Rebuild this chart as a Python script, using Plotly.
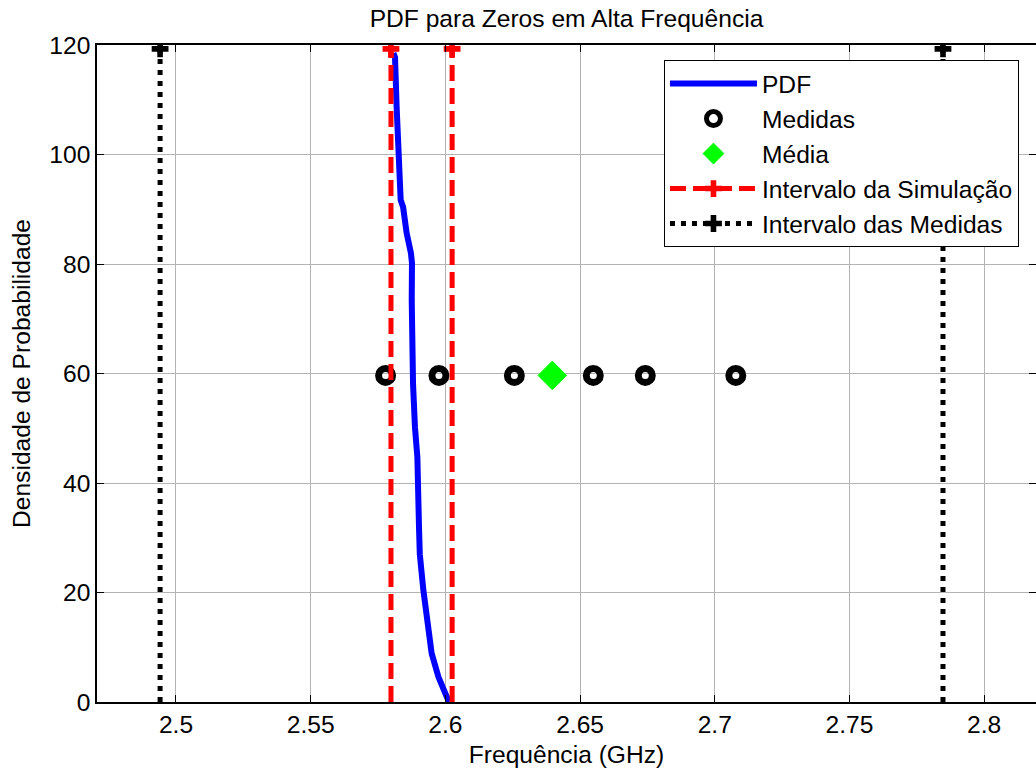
import plotly.graph_objects as go

# ---------------- data ----------------
pdf_freq = [2.5807, 2.5813, 2.5819, 2.5825, 2.5834, 2.5843, 2.5856, 2.5872, 2.5876,
            2.5875, 2.5877, 2.5880, 2.5887, 2.5896, 2.5902, 2.5905, 2.5918, 2.5931,
            2.5949, 2.5974, 2.5992, 2.6007, 2.6013]
pdf_dens = [118.5, 117.8, 108.7, 100.3, 91.7, 90.4, 85.7, 82.0, 80.2,
            73.4, 61.2, 58.0, 50.2, 44.7, 32.0, 27.0, 20.5, 15.0,
            8.9, 4.6, 2.2, 0.4, 0.0]

medidas_freq = [2.5778, 2.5976, 2.6256, 2.6549, 2.6742, 2.7078]
medidas_level = 59.65
media_freq = 2.6397

sim_interval = [2.5798, 2.6025]
meas_interval = [2.4941, 2.7847]
interval_bottom = 0.0
interval_top = 119.3

x_ticks = [2.5, 2.55, 2.6, 2.65, 2.7, 2.75, 2.8]
x_tick_labels = ["2.5", "2.55", "2.6", "2.65", "2.7", "2.75", "2.8"]
y_ticks = [0, 20, 40, 60, 80, 100, 120]
x_range = [2.47068, 2.81923]
y_range = [0, 120]

FONT = "Liberation Sans, Arial, sans-serif"
FS = 24.6

fig = go.Figure()

# PDF curve
fig.add_trace(go.Scatter(x=pdf_freq, y=pdf_dens, mode="lines", name="PDF",
                         line=dict(color="#0000ff", width=6)))

# Medidas
fig.add_trace(go.Scatter(x=medidas_freq, y=[medidas_level] * len(medidas_freq),
                         mode="markers", name="Medidas",
                         marker=dict(symbol="circle-open", size=14, color="black",
                                     line=dict(color="black", width=7))))

# Média
fig.add_trace(go.Scatter(x=[media_freq], y=[medidas_level], mode="markers", name="Média",
                         marker=dict(symbol="diamond", size=22, color="#00ff00",
                                     line=dict(color="#00ff00", width=1))))

RED_DASH = "16px,7px"
BLACK_DOT = "5px,6px"
CROSS_SIZE = 14

# Intervalo da Simulação
for xv in sim_interval:
    fig.add_trace(go.Scatter(x=[xv, xv], y=[interval_bottom, interval_top], mode="lines",
                             showlegend=False, hoverinfo="skip",
                             line=dict(color="#ff0000", width=5, dash=RED_DASH)))
fig.add_trace(go.Scatter(x=sim_interval, y=[interval_top] * len(sim_interval), mode="markers",
                         showlegend=False,
                         marker=dict(symbol="cross", size=CROSS_SIZE, color="#ff0000")))
fig.add_trace(go.Scatter(x=[None], y=[None], mode="lines+markers",
                         name="Intervalo da Simulação",
                         line=dict(color="#ff0000", width=5, dash=RED_DASH),
                         marker=dict(symbol="cross", size=CROSS_SIZE, color="#ff0000")))

# Intervalo das Medidas
for xv in meas_interval:
    fig.add_trace(go.Scatter(x=[xv, xv], y=[interval_bottom, interval_top], mode="lines",
                             showlegend=False, hoverinfo="skip",
                             line=dict(color="black", width=5, dash=BLACK_DOT)))
fig.add_trace(go.Scatter(x=meas_interval, y=[interval_top] * len(meas_interval), mode="markers",
                         showlegend=False,
                         marker=dict(symbol="cross", size=CROSS_SIZE, color="black")))
fig.add_trace(go.Scatter(x=[None], y=[None], mode="lines+markers",
                         name="Intervalo das Medidas",
                         line=dict(color="black", width=5, dash=BLACK_DOT),
                         marker=dict(symbol="cross", size=CROSS_SIZE, color="black")))

axis_common = dict(showline=True, linecolor="black", linewidth=1.5, mirror="ticks",
                   ticks="inside", ticklen=7, tickwidth=1, tickcolor="black",
                   showgrid=True, gridcolor="#b4b4b4", gridwidth=1, zeroline=False,
                   automargin=False,
                   tickfont=dict(family=FONT, size=FS, color="black"))

fig.update_xaxes(range=x_range, tickvals=x_ticks, ticktext=x_tick_labels,
                 title=dict(text="Frequência (GHz)", standoff=9,
                            font=dict(family=FONT, size=FS, color="black")),
                 **axis_common)
fig.update_yaxes(range=y_range, tickvals=y_ticks,
                 title=dict(text="Densidade de Probabilidade", standoff=12,
                            font=dict(family=FONT, size=FS, color="black")),
                 **axis_common)

fig.update_layout(
    width=1036, height=772,
    margin=dict(l=97, r=0, t=45, b=70),
    paper_bgcolor="white", plot_bgcolor="white",
    font=dict(family=FONT, size=FS, color="black"),
    title=dict(text="PDF para Zeros em Alta Frequência", x=0.5, xref="paper",
               y=1 - 18 / 772, yref="container", yanchor="middle", xanchor="center",
               font=dict(family=FONT, size=FS, color="black")),
    legend=dict(x=0.6038, y=0.977, xanchor="left", yanchor="top",
                bgcolor="white", bordercolor="black", borderwidth=1,
                itemwidth=87, font=dict(family=FONT, size=FS, color="black")),
    showlegend=True,
)

# remove the default page margin so the figure fills the window exactly
fig.write_html("out.html",
               config={"displayModeBar": False},
               post_script="document.body.style.margin='0';document.body.style.overflow='hidden';")
